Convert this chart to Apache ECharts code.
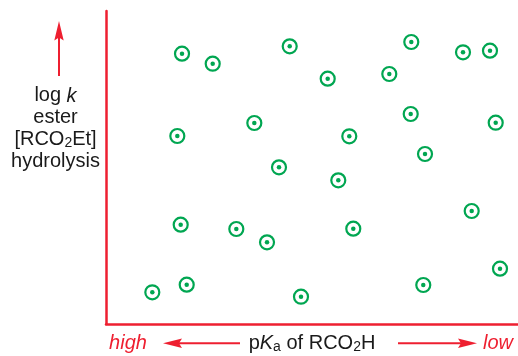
<!DOCTYPE html>
<html>
<head>
<meta charset="utf-8">
<script src="https://cdn.jsdelivr.net/npm/echarts@6/dist/echarts.min.js"></script>
<style>html,body{margin:0;padding:0;background:#fff;}#c{width:518px;height:356px;}</style>
</head>
<body>
<div id="c"></div>
<script>
// Data (arbitrary units: 0–100 on both axes, no tick labels in original)
var xValues = [18.45, 25.90, 44.59, 53.81, 68.76, 74.10, 86.65, 93.20, 17.31, 36.00, 59.05, 73.96, 94.59,
               41.99, 77.43, 56.38, 18.13, 31.63, 39.08, 60.02, 88.76, 95.63, 11.24, 19.59, 47.33, 77.01];
var yValues = [86.36, 83.16, 88.72, 78.37, 79.87, 90.10, 86.81, 87.32, 60.06, 64.22, 59.97, 67.09, 64.31,
               50.06, 54.31, 45.91, 31.73, 30.35, 26.10, 30.45, 36.10, 17.67, 10.13, 12.56, 8.72, 12.46];
var yLabelLines = ['log {i|k}', 'ester', '[RCO{s|2}Et]', 'hydrolysis'];
var xLabelText = 'p{i|K}{s|a} of RCO{s|2}H';
var highText = 'high';
var lowText = 'low';

var RED = '#ee1f30';
var GREEN = '#00a651';
var INK = '#1a1a1a';
var FONT = '"Liberation Sans", Arial, Helvetica, sans-serif';
var FS = 20;

var points = xValues.map(function (x, i) { return [x, yValues[i]]; });

var rich = {
  i: { fontStyle: 'italic', fontSize: FS, fontFamily: FONT, fill: INK, color: INK },
  s: { fontSize: 14, fontFamily: FONT, padding: [8, 0, 0, 0], fill: INK, color: INK }
};

var chart = echarts.init(document.getElementById('c'), null, { renderer: 'canvas' });
chart.setOption({
  animation: false,
  backgroundColor: '#fff',
  grid: { left: 106, right: 0, top: 11, bottom: 32 },
  xAxis: {
    type: 'value', min: 0, max: 100,
    axisLine: { show: true, lineStyle: { color: RED, width: 2.5 } },
    axisTick: { show: false }, axisLabel: { show: false }, splitLine: { show: false }
  },
  yAxis: {
    type: 'value', min: 0, max: 100,
    axisLine: { show: true, lineStyle: { color: RED, width: 2.5 } },
    axisTick: { show: false }, axisLabel: { show: false }, splitLine: { show: false }
  },
  series: [
    {
      type: 'scatter', data: points, symbol: 'circle', symbolSize: 14,
      itemStyle: { color: '#fff', borderColor: GREEN, borderWidth: 2.2, opacity: 1 },
      emphasis: { disabled: true }, z: 2
    },
    {
      type: 'scatter', data: points, symbol: 'circle', symbolSize: 4.5,
      itemStyle: { color: GREEN, opacity: 1 },
      emphasis: { disabled: true }, z: 3
    }
  ],
  graphic: [
    // vertical arrow
    { type: 'line', shape: { x1: 59, y1: 76, x2: 59, y2: 36 }, style: { stroke: RED, lineWidth: 2 } },
    { type: 'polygon', shape: { points: [[59, 21], [54.3, 40.5], [59, 37.5], [63.7, 40.5]] }, style: { fill: RED } },
    // y label
    {
      type: 'text', x: 55.5, y: 128.5,
      style: {
        text: yLabelLines.join('\n'), rich: rich,
        fontSize: FS, fontFamily: FONT, fill: INK,
        align: 'center', verticalAlign: 'middle', lineHeight: 21.7
      }
    },
    // bottom labels
    {
      type: 'text', x: 128, y: 343,
      style: { text: highText, fontSize: FS, fontFamily: FONT, fontStyle: 'italic', fill: RED, align: 'center', verticalAlign: 'middle' }
    },
    {
      type: 'text', x: 498, y: 343,
      style: { text: lowText, fontSize: FS, fontFamily: FONT, fontStyle: 'italic', fill: RED, align: 'center', verticalAlign: 'middle' }
    },
    {
      type: 'text', x: 312, y: 343,
      style: { text: xLabelText, rich: rich, fontSize: FS, fontFamily: FONT, fill: INK, align: 'center', verticalAlign: 'middle' }
    },
    // left arrow
    { type: 'line', shape: { x1: 178, y1: 343.3, x2: 240, y2: 343.3 }, style: { stroke: RED, lineWidth: 2 } },
    { type: 'polygon', shape: { points: [[163, 343.3], [182, 338.6], [179, 343.3], [182, 348]] }, style: { fill: RED } },
    // right arrow
    { type: 'line', shape: { x1: 398, y1: 343.3, x2: 462, y2: 343.3 }, style: { stroke: RED, lineWidth: 2 } },
    { type: 'polygon', shape: { points: [[477, 343.3], [458, 338.6], [461, 343.3], [458, 348]] }, style: { fill: RED } }
  ]
});
</script>
</body>
</html>
